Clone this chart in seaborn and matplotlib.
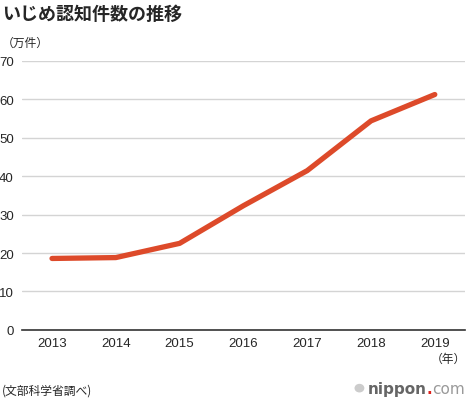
import matplotlib
matplotlib.use("Agg")
import matplotlib.pyplot as plt
import seaborn as sns
import pandas as pd

# bullying cases recognised (10k cases), MEXT survey
years = [2013, 2014, 2015, 2016, 2017, 2018, 2019]
cases = [18.58, 18.81, 22.51, 32.31, 41.44, 54.39, 61.25]
y_ticks = [0, 10, 20, 30, 40, 50, 60, 70]

df = pd.DataFrame({"year": years, "cases": cases})

sns.set_style("white")
plt.rcParams["font.family"] = ["Noto Sans CJK JP", "DejaVu Sans"]

fig = plt.figure(figsize=(4.69, 4.02), dpi=100)
ax = fig.add_axes([0.047, 0.177, 0.944, 0.669])

sns.lineplot(data=df, x="year", y="cases", ax=ax, color="#dd4a2a",
             linewidth=3.8, solid_capstyle="round", solid_joinstyle="round")

ax.set_xlim(2012.53, 2019.47)
ax.set_ylim(0, 70)
ax.set_yticks(y_ticks)
ax.set_xticks(years)
ax.set_xticklabels([str(y) for y in years], fontsize=9.5, family="Liberation Sans")
ax.set_yticklabels([str(v) for v in y_ticks], fontsize=9.5, family="Liberation Sans")
ax.tick_params(axis="both", length=0, pad=6)
ax.tick_params(axis="x", pad=5.5)
ax.grid(axis="y", color="#d4d4d4", linewidth=1)
ax.set_axisbelow(True)
for s in ["top", "right", "left"]:
    ax.spines[s].set_visible(False)
ax.spines["bottom"].set_color("#333333")
ax.spines["bottom"].set_linewidth(1.2)
ax.set_xlabel("")
ax.set_ylabel("")

fig.text(0.004, 0.965, "いじめ認知件数の推移", fontsize=13, fontweight="bold",
         ha="left", va="center")
fig.text(0.004, 0.893, "（万件）", fontsize=8.5, ha="left", va="center")
fig.text(0.993, 0.106, "（年）", fontsize=8.5, ha="right", va="center")
fig.text(0.004, 0.028, "(文部科学省調べ)", fontsize=8.5, ha="left", va="center")

# nippon.com logo, pieced together right to left
fig.canvas.draw()
r = fig.canvas.get_renderer()
x_right = 0.992
for piece, col, wt in [("com", "#9a9a9a", "normal"), (".", "#e0201b", "bold"),
                       ("nippon", "#666666", "bold")]:
    t = fig.text(x_right, 0.032, piece, fontsize=11, fontweight=wt, color=col,
                 ha="right", va="center", family="DejaVu Sans")
    bb = t.get_window_extent(renderer=r)
    x_right -= bb.width / fig.bbox.width
fig.patches.append(plt.Circle((x_right - 0.018, 0.032), 0.009,
                              transform=fig.transFigure, color="#cccccc"))

fig.savefig("out.png", dpi=100)
